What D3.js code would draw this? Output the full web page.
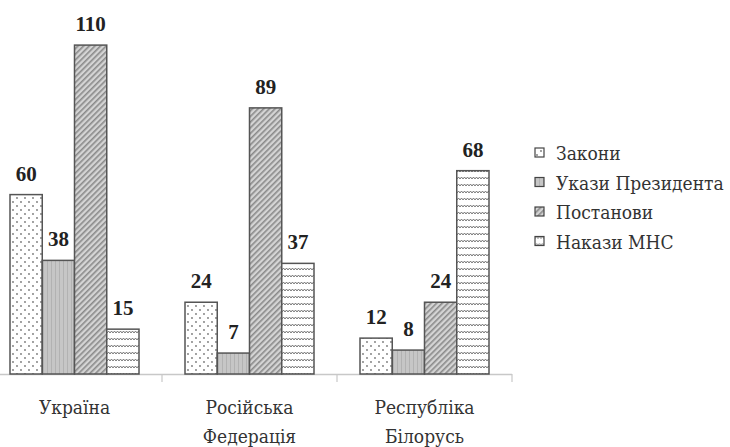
<!DOCTYPE html>
<html>
<head>
<meta charset="utf-8">
<script src="https://cdn.jsdelivr.net/npm/d3@7"></script>
<style>
  body { margin: 0; background: #fff; }
  svg { display: block; }
</style>
</head>
<body>
<svg id="chart"></svg>
<script>
// data
const categories = [['Україна'], ['Російська', 'Федерація'], ['Республіка', 'Білорусь']]
const series = ['Закони', 'Укази Президента', 'Постанови', 'Накази МНС']
const zakony = [60, 24, 12]
const ukazy = [38, 7, 8]
const postanovy = [110, 89, 24]
const nakazy = [15, 37, 68]

const values = [zakony, ukazy, postanovy, nakazy]
const patternIds = ['p-dots', 'p-vert', 'p-diag', 'p-wave']
const FONT = "'DejaVu Serif Condensed', 'DejaVu Serif', serif"
const NUMFONT = "'Liberation Serif', 'Times New Roman', serif"

const W = 730, H = 447
const svg = d3.select('#chart').attr('width', W).attr('height', H)

// patterns
const defs = svg.append('defs')

let p = defs.append('pattern').attr('id', 'p-dots').attr('patternUnits', 'userSpaceOnUse')
  .attr('width', 8).attr('height', 8)
p.append('rect').attr('width', 8).attr('height', 8).attr('fill', '#fff')
p.append('circle').attr('cx', 2).attr('cy', 2).attr('r', 0.9).attr('fill', '#777')
p.append('circle').attr('cx', 6).attr('cy', 6).attr('r', 0.9).attr('fill', '#777')

p = defs.append('pattern').attr('id', 'p-vert').attr('patternUnits', 'userSpaceOnUse')
  .attr('width', 4).attr('height', 4)
p.append('rect').attr('width', 4).attr('height', 4).attr('fill', '#c6c6c6')
p.append('rect').attr('width', 1).attr('height', 4).attr('fill', '#b2b2b2')

p = defs.append('pattern').attr('id', 'p-diag').attr('patternUnits', 'userSpaceOnUse')
  .attr('width', 4).attr('height', 4).attr('patternTransform', 'rotate(45)')
p.append('rect').attr('width', 4).attr('height', 4).attr('fill', '#d4d4d4')
p.append('rect').attr('width', 1.6).attr('height', 4).attr('fill', '#8a8a8a')

p = defs.append('pattern').attr('id', 'p-wave').attr('patternUnits', 'userSpaceOnUse')
  .attr('width', 6).attr('height', 7)
p.append('rect').attr('width', 6).attr('height', 7).attr('fill', '#fff')
p.append('path').attr('d', 'M0,4 L1.5,2 L3,4 L4.5,2 L6,4').attr('fill', 'none')
  .attr('stroke', '#6a6a6a').attr('stroke-width', 0.9)

// scales
const baseY = 374
const y = d3.scaleLinear().domain([0, 120]).range([baseY, baseY - 120 * 2.99])
const x0 = d3.scaleBand().domain(d3.range(categories.length)).range([-13, 512])
const x1 = d3.scaleBand().domain(d3.range(series.length)).range([23, 152])

// axis line and ticks
svg.append('line').attr('x1', 0).attr('x2', 512).attr('y1', baseY + 0.5).attr('y2', baseY + 0.5)
  .attr('stroke', '#c8c8c8').attr('stroke-width', 1.5)
svg.selectAll('.tick').data(d3.range(1, categories.length + 1)).enter().append('line')
  .attr('x1', d => x0.step() * d - 13).attr('x2', d => x0.step() * d - 13)
  .attr('y1', baseY).attr('y2', baseY + 8)
  .attr('stroke', '#c8c8c8').attr('stroke-width', 1.2)

// bars
const groups = svg.selectAll('g.grp').data(categories).enter().append('g')
  .attr('transform', (d, i) => 'translate(' + x0(i) + ',0)')

groups.each(function(d, ci) {
  const g = d3.select(this)
  series.forEach((s, si) => {
    const v = values[si][ci]
    g.append('rect')
      .attr('x', x1(si)).attr('width', x1.bandwidth())
      .attr('y', y(v)).attr('height', baseY - y(v))
      .attr('fill', 'url(#' + patternIds[si] + ')')
      .attr('stroke', '#555').attr('stroke-width', 1.5)
    g.append('text')
      .attr('x', x1(si) + x1.bandwidth() / 2).attr('y', y(v) - 14)
      .attr('text-anchor', 'middle').attr('font-size', 21).attr('font-weight', 'bold')
      .attr('font-family', NUMFONT).attr('fill', '#222')
      .text(v)
  })
  g.selectAll('text.cat').data(d).enter().append('text')
    .attr('class', 'cat')
    .attr('x', x0.bandwidth() / 2).attr('y', (t, i) => 414 + i * 29)
    .attr('text-anchor', 'middle').attr('font-size', 19)
    .attr('font-family', FONT).attr('fill', '#333')
    .text(t => t)
})

// legend
const legend = svg.selectAll('g.leg').data(series).enter().append('g')
  .attr('transform', (d, i) => 'translate(535,' + (153 + i * 29.5) + ')')
legend.append('rect').attr('x', 0).attr('y', -5).attr('width', 9).attr('height', 9)
  .attr('fill', (d, i) => 'url(#' + patternIds[i] + ')')
  .attr('stroke', '#444').attr('stroke-width', 1.2)
legend.append('text').attr('x', 21).attr('y', 7).attr('font-size', 19)
  .attr('font-family', FONT).attr('fill', '#333').text(d => d)
</script>
</body>
</html>
